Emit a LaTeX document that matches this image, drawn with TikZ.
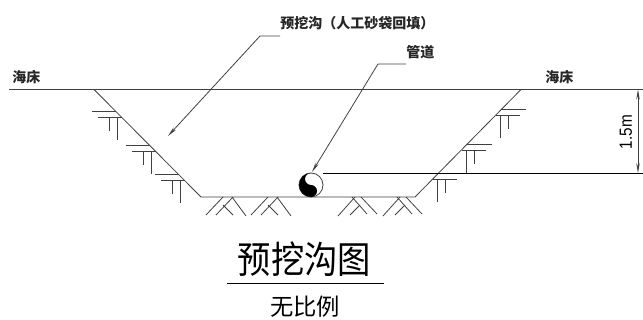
\documentclass[tikz,border=0pt]{standalone}
\usepackage{fontspec}
\setmainfont{Liberation Sans}
\newfontfamily\cjk{Noto Sans CJK SC}
\usetikzlibrary{arrows.meta}
\tikzset{
	ln/.style={line width=.6pt,black!75},
	lbl/.style={inner sep=0pt,font=\cjk\bfseries\fontsize{10.5}{12}\selectfont,black!85},
}
\begin{document}
\begin{tikzpicture}[line join=round,>={Stealth[length=7.5pt,width=2.6pt]},x=.75pt,y=.75pt]
	\useasboundingbox (0,0) rectangle (643,-320);
	% labels
	\node[lbl,anchor=west] (trenchlbl) at (280,-23) {预挖沟（人工砂袋回填）};
	\node[lbl,anchor=west] (pipelbl) at (406,-52) {管道};
	\node[lbl,anchor=west] (bedl) at (12,-77) {海床};
	\node[lbl,anchor=west] (bedr) at (545,-77) {海床};
	% seabed and trench
	\draw[ln] (9,-89.5)--(643,-89.5);
	\draw[ln] (94,-89.5)--(201,-197)--(415,-197)--(521,-89.5);
	% side hatching
	\foreach \x/\y in {92/-111,126/-145,155/-174}{
		\draw[ln] (\x,\y)--++(24,0);
		\draw[ln] (\x+6,\y-6.5)--++(24,0);
		\draw[ln] (\x+17,\y-6.5)--++(0,-14);
		\draw[ln] (\x+25,\y-6.5)--++(0,-23);
	}
	\foreach \x/\y in {501/-109,467/-144,438/-173}{
		\draw[ln] (\x,\y)--++(25,0);
		\draw[ln] (\x-5,\y-6.5)--++(24,0);
		\draw[ln] (\x-1,\y-6.5)--++(0,-23);
		\draw[ln] (\x+7,\y-6.5)--++(0,-14);
	}
	% bottom hatching
	\foreach \x in {206,251}{
		\draw[ln] (\x,-215)--(\x+17,-197);
		\draw[ln] (\x+10,-215)--(\x+27,-197);
		\draw[ln] (\x+17,-205)--(\x+27,-215);
		\draw[ln] (\x+26,-197)--(\x+40,-216);
	}
	\foreach \x in {338,383}{
		\draw[ln] (\x,-216)--(\x+17,-197);
		\draw[ln] (\x+14,-197)--(\x+29,-214);
		\draw[ln] (\x+12,-215)--(\x+22,-205);
		\draw[ln] (\x+23,-197)--(\x+39,-214);
	}
	% pipe
	\draw[ln] (311,-185) circle (12);
	\fill[black] (311,-173) arc (90:270:12) arc (-90:90:6) arc (-90:-270:6)--cycle;
	% leaders
	\coordinate (trenchknee) at (260,-36);
	\coordinate (trenchtip) at (168,-136);
	\coordinate (pipeknee) at (378,-64);
	\coordinate (pipetip) at (312,-172);
	\draw[ln,->] (trenchlbl.west|-trenchknee)--(trenchknee)--(trenchtip);
	\draw[ln,->] (pipelbl.west|-pipeknee)--(pipeknee)--(pipetip);
	% height
	\coordinate (dimtop) at (638,-89.5);
	\coordinate (dimbot) at (638,-173);
	\draw[line width=.6pt,black] (323,-173)--(643,-173);
	\draw[ln,<->] (dimtop)--(dimbot);
	\node[inner sep=0pt,rotate=90,font=\fontsize{11.5}{13}\selectfont,black] (dimlbl) at (626,-132) {\scalebox{1}[1.15]{1.5m}};
	% title
	\node[inner sep=0pt,font=\cjk\fontsize{25}{28}\selectfont,black] (title) at (304.5,-259) {\scalebox{1}[1.12]{预挖沟图}};
	\draw[line width=.6pt,black] (227,-283)--(384,-283);
	\node[inner sep=0pt,font=\cjk\fontsize{17.5}{20}\selectfont,black] (scalelbl) at (305,-307) {无比例};
\end{tikzpicture}
\end{document}
